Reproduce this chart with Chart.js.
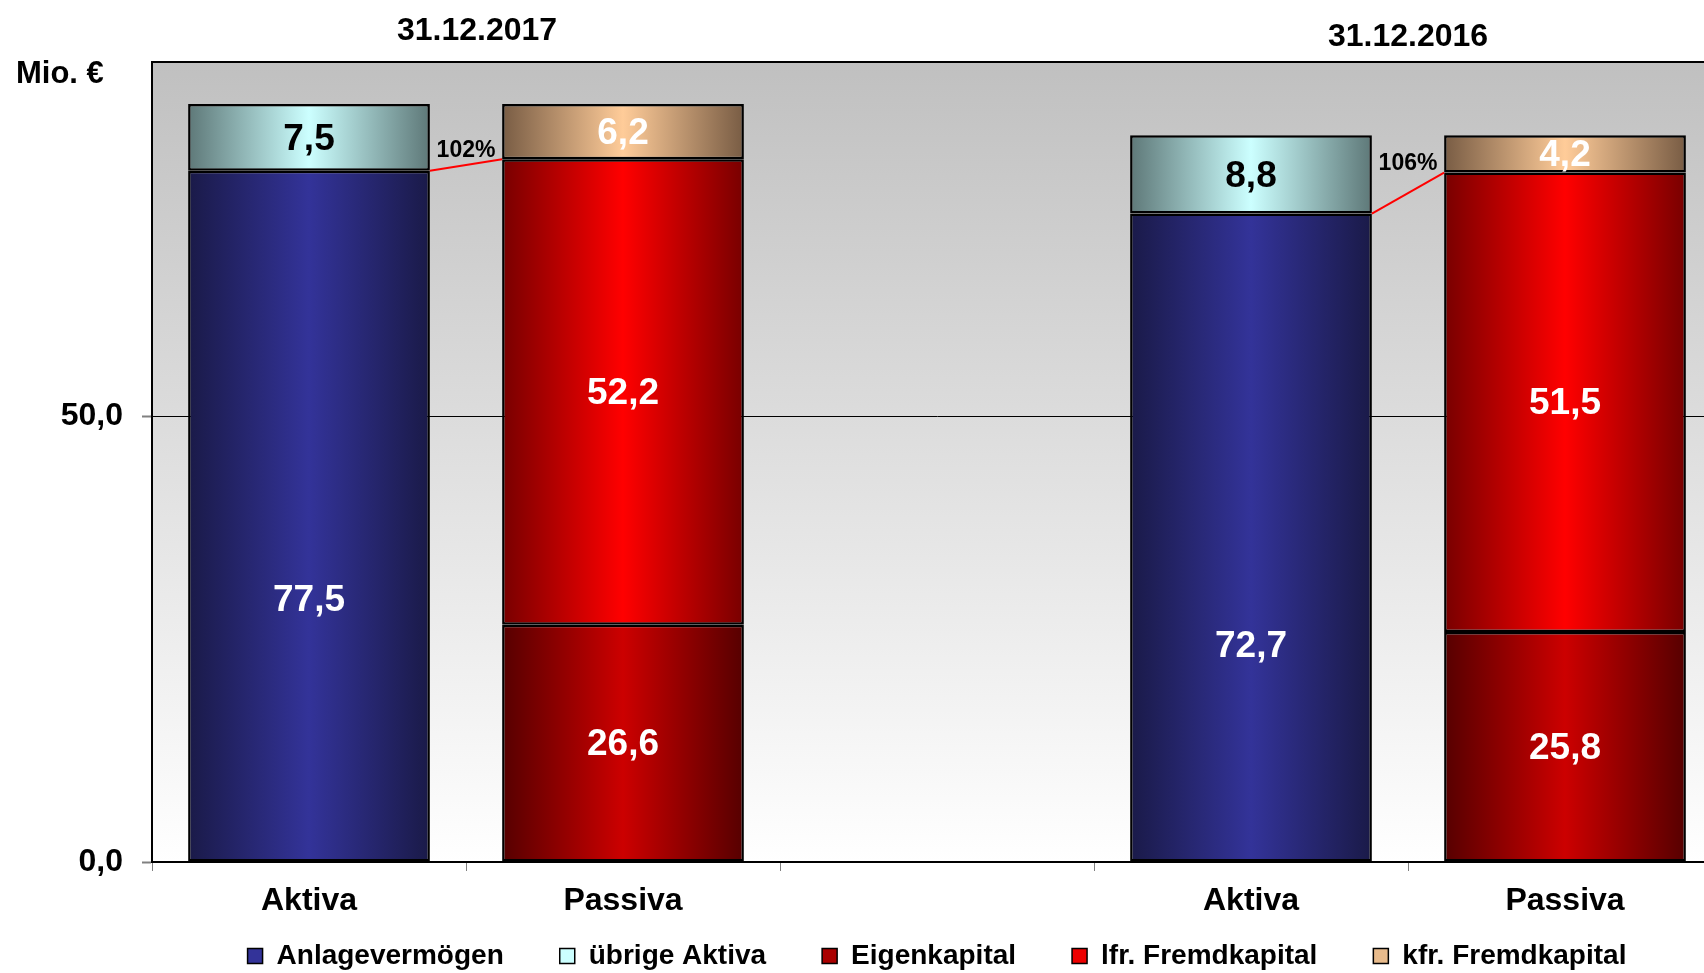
<!DOCTYPE html>
<html><head><meta charset="utf-8">
<script src="https://cdn.jsdelivr.net/npm/chart.js@4"></script>
<style>html,body{margin:0;padding:0;overflow:hidden;background:#fff;width:1704px;height:973px}canvas{display:block}</style>
</head><body><canvas id="c" width="1740" height="1016"></canvas>
<script>
// ---- data ----
const categories = ['Aktiva', 'Passiva', '', 'Aktiva', 'Passiva'];
const anlagevermoegen = [77.5, null, null, 72.7, null];
const uebrigeAktiva   = [7.5,  null, null, 8.8,  null];
const eigenkapital    = [null, 26.6, null, null, 25.8];
const lfrFremdkapital = [null, 52.2, null, null, 51.5];
const kfrFremdkapital = [null, 6.2,  null, null, 4.2];
const seriesNames = ['Anlagevermögen', 'übrige Aktiva', 'Eigenkapital', 'lfr. Fremdkapital', 'kfr. Fremdkapital'];
const yTicks = [0, 50];
const groupTitles = ['31.12.2017', '31.12.2016'];
const pairs = [[0, 1], [3, 4]]; // [Aktiva index, Passiva index]
const unitLabel = 'Mio. €';

// ---- style ----
const FONT = "'Liberation Sans', Arial, Helvetica, sans-serif";
const BAR_PCT = 0.77;
const palettes = [
  ['#1a1a48', '#333399'],
  ['#5e7878', '#ccffff'],
  ['#560000', '#cc0000'],
  ['#780000', '#ff0000'],
  ['#785c44', '#ffcc99']
];
const legendFill = ['#333399', '#ccffff', '#aa0000', '#ee0000', '#e8bb8c'];
const labelColors = ['#fff', '#000', '#fff', '#fff', '#fff'];
// vertical anchor of the value label inside each segment (fraction from bottom)
const labelAnchor = [[0.38, 0.5, 0.5, 0.335, 0.5], 0.5, 0.5, 0.5, 0.5];
const fmt = v => Number(v).toFixed(1).replace('.', ',');

function grad(i) {
  return (ctx) => {
    const [edge, mid] = palettes[i];
    const chart = ctx.chart;
    const xs = chart.scales && chart.scales.x;
    if (ctx.type !== 'data' || !xs || !xs.width) return mid;
    const cx = xs.getPixelForValue(ctx.dataIndex);
    const w = (xs.width / categories.length) * BAR_PCT;
    const g = chart.ctx.createLinearGradient(cx - w / 2, 0, cx + w / 2, 0);
    g.addColorStop(0, edge); g.addColorStop(0.5, mid); g.addColorStop(1, edge);
    return g;
  };
}

const seriesData = [anlagevermoegen, uebrigeAktiva, eigenkapital, lfrFremdkapital, kfrFremdkapital];
const datasets = seriesData.map((d, i) => ({
  label: seriesNames[i],
  data: d,
  backgroundColor: grad(i),
  borderColor: '#000',
  borderWidth: 2.5,
  borderSkipped: false,
  stack: 's',
  barPercentage: BAR_PCT,
  categoryPercentage: 1
}));

const LEGEND_Y = 956;

const deco = {
  id: 'deco',
  afterLayout(chart) {
    const l = chart.legend;
    if (!l) return;
    const pad = l.options.labels.padding;
    const fs = l.options.labels.font.size;
    const shift = (l.top + pad + fs / 2) - LEGEND_Y;
    l.top -= shift; l.bottom -= shift;
  },
  beforeDraw(chart) {
    const { ctx, chartArea: a } = chart;
    const g = ctx.createLinearGradient(0, a.top, 0, a.bottom);
    g.addColorStop(0, '#c0c0c0'); g.addColorStop(1, '#ffffff');
    ctx.save();
    ctx.fillStyle = g;
    ctx.fillRect(a.left, a.top, a.right - a.left, a.bottom - a.top);
    ctx.strokeStyle = '#000'; ctx.lineWidth = 2;
    ctx.beginPath(); ctx.moveTo(a.left, a.top); ctx.lineTo(a.right, a.top); ctx.lineTo(a.right, a.bottom); ctx.stroke();
    ctx.restore();
  },
  afterDatasetsDraw(chart) {
    const ctx = chart.ctx;
    ctx.save();
    // connectors
    pairs.forEach(([ai, pi]) => {
      const av = chart.getDatasetMeta(0).data[ai];
      const lf = chart.getDatasetMeta(3).data[pi];
      const x1 = av.x + av.width / 2, y1 = av.y;
      const x2 = lf.x - lf.width / 2, y2 = lf.y;
      ctx.strokeStyle = '#ff0000'; ctx.lineWidth = 2;
      ctx.beginPath(); ctx.moveTo(x1, y1); ctx.lineTo(x2, y2); ctx.stroke();
      const pct = Math.round((eigenkapital[pi] + lfrFremdkapital[pi]) / anlagevermoegen[ai] * 100);
      ctx.fillStyle = '#000';
      ctx.font = `bold 23px ${FONT}`;
      ctx.textAlign = 'center'; ctx.textBaseline = 'middle';
      ctx.fillText(pct + '%', (x1 + x2) / 2, y2 - 9);
    });
    // value labels
    ctx.font = `bold 37px ${FONT}`;
    ctx.textAlign = 'center'; ctx.textBaseline = 'middle';
    seriesData.forEach((d, i) => {
      chart.getDatasetMeta(i).data.forEach((el, j) => {
        if (d[j] == null) return;
        const f = Array.isArray(labelAnchor[i]) ? labelAnchor[i][j] : labelAnchor[i];
        ctx.fillStyle = labelColors[i];
        ctx.fillText(fmt(d[j]), el.x, el.base + (el.y - el.base) * f + 2);
      });
    });
    ctx.restore();
  },
  afterDraw(chart) {
    const ctx = chart.ctx;
    const xs = chart.scales.x;
    const catW = xs.width / categories.length;
    ctx.save();
    ctx.fillStyle = '#000';
    ctx.font = `bold 32px ${FONT}`;
    ctx.textAlign = 'center'; ctx.textBaseline = 'middle';
    const tPos = [[xs.getPixelForValue(pairs[0][0]) + 0.535 * catW, 31], [xs.getPixelForValue(pairs[1][0]) + 0.5 * catW, 37]];
    groupTitles.forEach((t, i) => ctx.fillText(t, tPos[i][0], tPos[i][1]));
    ctx.font = `bold 31px ${FONT}`;
    ctx.textAlign = 'left';
    ctx.fillText(unitLabel, 16, 74);
    ctx.restore();
  }
};

new Chart(document.getElementById('c'), {
  type: 'bar',
  data: { labels: categories, datasets },
  plugins: [deco],
  options: {
    responsive: false,
    animation: false,
    devicePixelRatio: 1,
    layout: { padding: { top: 62, right: 18, left: 0, bottom: 0 } },
    plugins: {
      tooltip: { enabled: false },
      title: { display: false },
      legend: {
        position: 'bottom',
        fullSize: false,
        labels: {
          font: { family: FONT, size: 28, weight: 'bold' },
          color: '#000',
          boxWidth: 15,
          boxHeight: 15,
          padding: 56,
          generateLabels: (chart) => seriesNames.map((n, i) => ({
            text: n, fillStyle: legendFill[i], strokeStyle: '#000', lineWidth: 1.5,
            hidden: false, datasetIndex: i, fontColor: '#000'
          }))
        }
      }
    },
    scales: {
      x: {
        stacked: true,
        offset: true,
        grid: { offset: true, drawOnChartArea: false, drawTicks: true, tickLength: 9, tickColor: '#808080', tickWidth: 1 },
        border: { display: true, color: '#000', width: 2 },
        ticks: { color: '#000', font: { family: FONT, size: 32, weight: 'bold' }, padding: 11, maxRotation: 0, autoSkip: false },
        afterFit: s => { s.height = 60; }
      },
      y: {
        stacked: true,
        min: 0, max: 89.7,
        afterBuildTicks: s => { s.ticks = yTicks.map(v => ({ value: v })); },
        grid: {
          color: c => (c.tick && c.tick.value === 50) ? '#000' : 'rgba(0,0,0,0)',
          lineWidth: 1, drawTicks: true, tickLength: 10, tickColor: '#808080', tickWidth: 2
        },
        border: { display: true, color: '#000', width: 2 },
        ticks: { color: '#000', font: { family: FONT, size: 32, weight: 'bold' }, padding: 19, callback: v => fmt(v) },
        afterFit: s => { s.width = 152; }
      }
    }
  }
});
</script>
</body></html>
